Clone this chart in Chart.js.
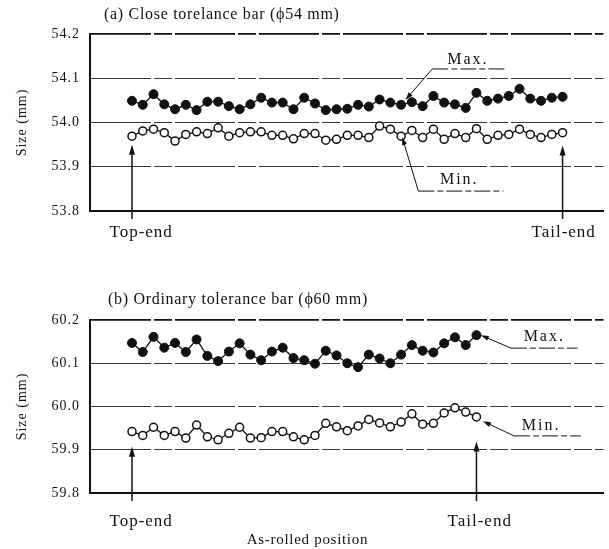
<!DOCTYPE html>
<html>
<head>
<meta charset="utf-8">
<script src="https://cdn.jsdelivr.net/npm/chart.js@4.4.1/dist/chart.umd.min.js"></script>
<style>
  html, body { margin: 0; padding: 0; background: #fff; }
  #wrap { position: relative; width: 609px; height: 549px; }
  canvas { position: absolute; left: 0; }
  #chartA { top: 0; }
  #chartB { top: 265px; }
</style>
</head>
<body>
<div id="wrap">
  <canvas id="chartA" width="609" height="255"></canvas>
  <canvas id="chartB" width="609" height="284"></canvas>
</div>
<script>
// (a) close tolerance bar, phi 54 mm - 41 positions along the bar
const maxA = [54.049, 54.040, 54.064, 54.041, 54.030, 54.040, 54.028, 54.047, 54.047, 54.037,
              54.030, 54.041, 54.056, 54.045, 54.045, 54.030, 54.056, 54.043, 54.028, 54.030,
              54.031, 54.040, 54.036, 54.052, 54.045, 54.040, 54.046, 54.037, 54.060, 54.045,
              54.041, 54.033, 54.067, 54.049, 54.054, 54.060, 54.076, 54.054, 54.049, 54.056,
              54.058];
const minA = [53.969, 53.981, 53.985, 53.977, 53.958, 53.973, 53.979, 53.975, 53.988, 53.969,
              53.977, 53.979, 53.979, 53.971, 53.971, 53.963, 53.975, 53.975, 53.960, 53.962,
              53.971, 53.971, 53.966, 53.992, 53.985, 53.969, 53.982, 53.966, 53.985, 53.962,
              53.975, 53.966, 53.986, 53.962, 53.971, 53.973, 53.985, 53.973, 53.966, 53.973,
              53.977];
// (b) ordinary tolerance bar, phi 60 mm - 33 positions
const maxB = [60.147, 60.126, 60.161, 60.136, 60.147, 60.126, 60.155, 60.117, 60.105, 60.127,
              60.146, 60.120, 60.107, 60.127, 60.136, 60.112, 60.107, 60.099, 60.129, 60.118,
              60.100, 60.091, 60.120, 60.111, 60.100, 60.120, 60.142, 60.129, 60.125, 60.146,
              60.160, 60.142, 60.165];
const minB = [59.942, 59.933, 59.952, 59.933, 59.942, 59.927, 59.957, 59.930, 59.923, 59.938,
              59.952, 59.927, 59.928, 59.942, 59.942, 59.930, 59.923, 59.933, 59.961, 59.953,
              59.944, 59.955, 59.970, 59.962, 59.953, 59.964, 59.983, 59.959, 59.961, 59.985,
              59.997, 59.987, 59.976];

const endLabels = ['Top-end', 'Tail-end'];
const endArrowsA = [0, 40];       // arrow positions (bar ends)
const endArrowsB = [0, 32];
const endLabelPosA = [0.85, 40.1]; // where the end labels sit
const endLabelPosB = [0.85, 32.3];
const yTicksA = [53.8, 53.9, 54.0, 54.1, 54.2];
const yTicksB = [59.8, 59.9, 60.0, 60.1, 60.2];

const INK = '#111';
const SERIF = '"Liberation Serif", "DejaVu Serif", serif';
Chart.defaults.font.family = SERIF;
Chart.defaults.color = INK;

// line with a filled head at (x1, y1)
function arrow(ctx, x0, y0, x1, y1, w, len, half) {
    const a = Math.atan2(y1 - y0, x1 - x0);
    ctx.lineWidth = w;
    ctx.beginPath(); ctx.moveTo(x0, y0); ctx.lineTo(x1 - Math.cos(a) * len * 0.6, y1 - Math.sin(a) * len * 0.6); ctx.stroke();
    ctx.beginPath();
    ctx.moveTo(x1, y1);
    ctx.lineTo(x1 - Math.cos(a) * len - Math.sin(a) * half, y1 - Math.sin(a) * len + Math.cos(a) * half);
    ctx.lineTo(x1 - Math.cos(a) * len + Math.sin(a) * half, y1 - Math.sin(a) * len - Math.cos(a) * half);
    ctx.closePath(); ctx.fill();
}

function text(ctx, str, x, y, size, spacing) {
    ctx.font = size + 'px ' + SERIF;
    ctx.letterSpacing = spacing + 'px';
    ctx.fillText(str, x, y);
}

// the scanned lettering is set wide: give all library text a little tracking
const trackingPlugin = {
    id: 'tracking',
    beforeLayout(chart) { chart.ctx.letterSpacing = '1px'; },
    beforeDraw(chart) { chart.ctx.letterSpacing = '1px'; }
};

// panel title, end arrows, axis caption and the Max./Min. call-outs (placed in data units)
const notesPlugin = {
    id: 'notes',
    afterDatasetsDraw(chart, args, o) {
        const { ctx, chartArea: a, scales: { x, y } } = chart;
        ctx.save();
        ctx.fillStyle = INK; ctx.strokeStyle = INK;
        ctx.textAlign = 'left'; ctx.textBaseline = 'middle';
        text(ctx, o.title, a.left + o.titleDx, o.titleY, 16, 0.7);

        o.arrows.forEach(([at, tip]) => {
            const px = x.getPixelForValue(at);
            arrow(ctx, px, a.bottom + 8, px, y.getPixelForValue(tip), 1.5, 10, 3);
        });

        ctx.textAlign = 'center';
        if (o.caption) text(ctx, o.caption.text, x.getPixelForValue(o.caption.at), o.caption.y, 15, 0.7);

        o.labels.forEach(l => {
            text(ctx, l.text, x.getPixelForValue(l.at[0]), y.getPixelForValue(l.at[1]), 16, 2);
            const x1 = x.getPixelForValue(l.line[0]), x2 = x.getPixelForValue(l.line[1]);
            const ly = y.getPixelForValue(l.line[2]);
            ctx.lineWidth = 1;
            ctx.setLineDash([16, 3, 6, 3]);
            ctx.beginPath(); ctx.moveTo(x1, ly); ctx.lineTo(x2, ly); ctx.stroke();
            ctx.setLineDash([]);
            arrow(ctx, x1, ly, x.getPixelForValue(l.tip[0]), y.getPixelForValue(l.tip[1]), 1, 8, 2.5);
        });
        ctx.restore();
    }
};

function buildChart(id, s) {
    const pts = arr => arr.map((v, i) => ({ x: i, y: v }));
    const top = s.yTicks.length - 1;
    return new Chart(document.getElementById(id), {
        type: 'line',
        data: {
            datasets: [
                { label: 'Max.', data: pts(s.max), borderColor: INK, borderWidth: 1.3,
                  pointRadius: 4.5, pointBackgroundColor: INK, pointBorderColor: INK, pointBorderWidth: 1 },
                { label: 'Min.', data: pts(s.min), borderColor: INK, borderWidth: 1.3,
                  pointRadius: 4, pointBackgroundColor: '#fff', pointBorderColor: INK, pointBorderWidth: 1.5 }
            ]
        },
        options: {
            responsive: false, animation: false, devicePixelRatio: 1,
            layout: { padding: { top: s.top, left: 0, right: 0, bottom: 0 } },
            plugins: { legend: { display: false }, tooltip: { enabled: false }, notes: s.notes },
            scales: {
                x: {
                    type: 'linear', min: -3.9, max: 43.8,
                    afterBuildTicks: sc => { sc.ticks = s.xLabelPos.map(v => ({ value: v })); },
                    afterFit: sc => { sc.height = s.xH; },
                    ticks: { callback: (v, i) => endLabels[i], maxRotation: 0, autoSkip: false,
                             padding: s.xPad, font: { size: 17 } },
                    grid: { drawOnChartArea: false, drawTicks: false },
                    border: { color: INK, width: 2 }
                },
                y: {
                    min: s.yTicks[0], max: s.yTicks[top],
                    afterBuildTicks: sc => { sc.ticks = s.yTicks.map(v => ({ value: v })); },
                    afterFit: sc => { sc.width = 90; },
                    ticks: { callback: v => v.toFixed(1), padding: 10, font: { size: 14 } },
                    grid: { color: c => c.index === top ? INK : '#333',
                            lineWidth: c => c.index === top ? 1.8 : 1, drawTicks: false },
                    border: { color: INK, width: 2, dash: [60, 3, 18, 3] },
                    title: { display: true, text: 'Size (mm)', font: { size: 14 }, padding: { top: 14, bottom: 0 } }
                }
            }
        },
        plugins: [trackingPlugin, notesPlugin]
    });
}

buildChart('chartA', {
    max: maxA, min: minA, xLabelPos: endLabelPosA, yTicks: yTicksA,
    top: 34, xH: 44, xPad: 11,
    notes: {
        title: '(a) Close torelance bar (\u03D554 mm)', titleDx: 14, titleY: 15,
        arrows: [[endArrowsA[0], 53.950], [endArrowsA[1], 53.948]],
        labels: [
            { text: 'Max.', at: [31.2, 54.142], line: [27.9, 34.7, 54.121], tip: [25.4, 54.051] },
            { text: 'Min.', at: [30.4, 53.870], line: [26.6, 34.5, 53.845], tip: [25.1, 53.967] }
        ]
    }
});

buildChart('chartB', {
    max: maxB, min: minB, xLabelPos: endLabelPosB, yTicks: yTicksB,
    top: 55, xH: 56, xPad: 18,
    notes: {
        title: '(b) Ordinary tolerance bar (\u03D560 mm)', titleDx: 18, titleY: 35,
        arrows: [[endArrowsB[0], 59.907], [endArrowsB[1], 59.919]],
        caption: { text: 'As-rolled position', at: 16.3, y: 275 },
        labels: [
            { text: 'Max.', at: [38.3, 60.161], line: [35.2, 41.4, 60.135], tip: [32.4, 60.165] },
            { text: 'Min.', at: [38.0, 59.955], line: [35.5, 41.7, 59.932], tip: [32.6, 59.966] }
        ]
    }
});
</script>
</body>
</html>
